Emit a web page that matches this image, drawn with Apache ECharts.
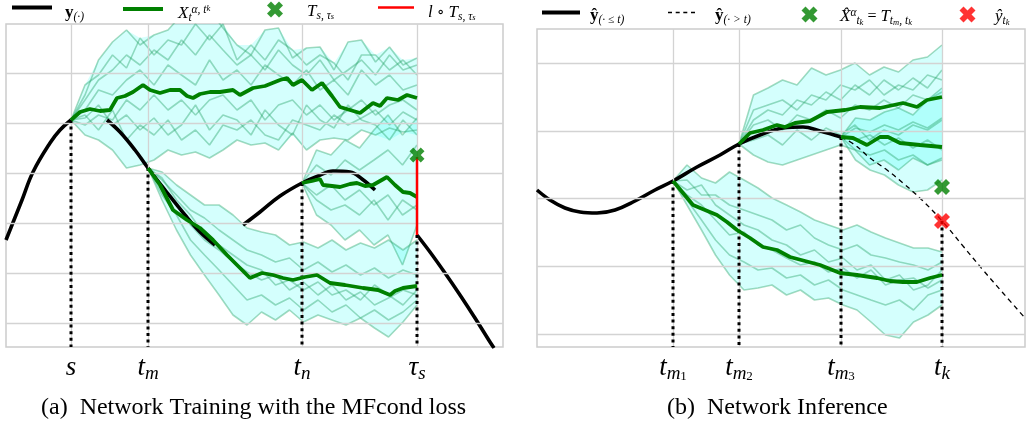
<!DOCTYPE html>
<html><head><meta charset="utf-8">
<script src="https://cdn.jsdelivr.net/npm/echarts@6/dist/echarts.min.js"></script>
<style>html,body{margin:0;padding:0;background:#fff}#c{width:1029px;height:425px}</style>
</head><body><div id="c"></div>
<script>
// ---------------- Panel (a) ----------------
const ticksA = [13, 28.4, 59.2, 82.2];
const tickLabelsA = ['s', 't_m', 't_n', 'τ_s'];
const dotTopA = [40.6, 31, 28, 17.6];
const hGridA = [0, 10, 20, 30, 40, 50];

const curveA1 = [[0,16.6],[1.6,20.6],[3.2,24.6],[5.4,30.2],[8.8,36],[10.8,38.6],[13,40.6]];
const curveA2 = [[20.2,40.6],[22.8,38.2],[25.8,34.6],[28.4,31],[31.8,26.6],[35.8,21.6],[38.8,18.2],[41.8,15.6]];
const curveA3 = [[47.4,19.6],[50.8,22.2],[54.8,25.4],[59.2,28],[62.4,29.4],[65.4,30.4],[68.8,30.2],[71.2,28.8],[73.8,26.6]];
const curveA4 = [[82.2,17.6],[84.8,14.2],[87.8,10],[90.8,5.6],[93.8,1],[96.8,-3.8],[97.6,-5]];

const meanA1 = [[13,40.6],[14.8,42.2],[16.8,42.8],[18.8,42.4],[20.8,42.6],[22.2,45],[23.8,45.4],[25.4,46.2],[27.4,47.6],[28.8,46.6],[30.8,46],[32.8,46.6],[34.8,46.6],[36.2,45.4],[37.4,45],[38.8,45.8],[40.8,46.2],[42.8,46.2],[45.4,46.6],[46.8,45.6],[49.4,47],[51.8,47.4],[54.8,48.6],[56.2,49],[57.4,47.6],[59.2,48.6],[61.2,46.6],[63.2,48],[65.2,45.4],[66.8,43.2],[68.8,42.6],[70.8,42],[73.4,44],[74.8,43.4],[76.2,45],[78.4,44.6],[80.2,45.6],[82.2,45]];
const meanA2 = [[28.4,31],[30.8,27.6],[33.4,22.6],[36.2,20.6],[38.8,19],[41.4,16.6],[44.2,13.6],[46.8,11],[48.8,9],[51.2,10],[53.4,9.6],[55.4,9],[57.4,8.6],[59.8,9.2],[62.2,9.6],[64.8,8],[67.8,7.6],[71.4,7],[74.4,6.6],[76.8,5.6],[77.8,6.4],[79.4,7],[82.2,7.4]];
const meanA3 = [[59.2,28],[61.2,28.4],[62.8,28.8],[63.4,27.6],[65.2,27.4],[66.8,27.2],[68.8,27.8],[70.2,28],[71.8,27.4],[73.4,27.6],[74.8,28.4],[76.2,29.2],[77.8,27.6],[79.4,26.2],[80.8,26],[82.2,25.2]];

const tA1 = [13,15.8,18.5,21.3,24.1,26.8,29.6,32.4,35.1,37.9,40.7,43.4,46.2,49,51.8,54.5,57.3,60.1,62.8,65.6,68.4,71.1,73.9,76.7,79.4,82.2];
const pathsA1 = [
 [40.6,45.6,52.6,56.2,58.6,55.6,57.6,58.6,61.6,60.6,62.6,59,55.6,53.6,58.6,59,53,55,55.2,50.6,56.2,56.6,52.2,55.2,51.6,53],
 [40.6,47.6,49.6,53.6,51,57,53.6,56.6,55.6,59.8,56.6,59.8,52.6,55.6,52.6,56.6,54.6,51.6,53.6,52,48.6,53.6,53.6,50.6,52.6,49.6],
 [40.6,42.6,46.6,45.6,48.6,50.6,47.6,51.6,49.6,47.6,52.6,48.6,50.6,47.6,51.6,49.6,47.6,50.6,46.6,48.6,45.6,50.6,47.6,49.6,46.6,47.6],
 [40.6,39.6,41.6,40.6,44.6,42.6,45.6,42.6,44.6,41.6,44.6,45.6,42.6,44.6,40.6,43.6,44.6,41.6,43.6,40.6,42.6,44.6,41.6,43.6,44.6,42.6],
 [40.6,37.6,36.6,34.6,31,31.6,32.6,34.6,33.6,34.2,33,34.6,36.6,35.6,36,34.6,38,34.6,36.6,37,36.6,38.6,37.6,39,38.2,38.6],
 [40.6,41.6,38.6,42.6,36.6,39.6,37.6,40.6,36.6,38.6,35.6,39.6,38.6,40.6,37.6,36.6,40.6,39.6,38.6,41.6,39.6,41,42.6,39.6,42.2,40.6],
 [40.6,44.6,48.6,50.6,53.6,51.6,54.6,52.6,56.6,53.6,57.6,54.6,51.6,53.6,50.6,54.6,51.6,49.6,52.6,48.6,50.6,52.6,49.6,53.6,50.6,51.6],
 [40.6,41,43.6,39.6,41.6,38.6,41,37.6,39.6,43.6,38.6,41.6,40.6,37.6,42.6,39.6,37.6,43.6,40.6,39,43.6,40.6,39.6,36.6,40.6,37.6]
];
const tA2 = [28.4,31.2,34.1,36.9,39.7,42.6,45.4,48.2,51.1,53.9,56.7,59.5,62.4,65.2,68,70.9,73.7,76.5,79.4,82.2];
const pathsA2 = [
 [31,30.2,27.6,25.6,23.6,23.6,21.6,19,18.2,17.6,15.6,16.2,15,16.6,14.6,16,15,16.6,14.6,16.6],
 [31,28.6,25.6,22.6,21,18.6,16.6,14.6,13.6,12.2,13,10.6,12.2,10.2,11.6,9.6,11,9,10.6,9.6],
 [31,27.6,23.6,19.6,16.6,14.6,12.2,10.2,8.6,9.6,6.6,8.2,5.6,7.6,4.6,6.2,3.6,5,6.6,5.6],
 [31,25.6,21.6,16.6,13.6,10.6,7.6,4.6,5.6,3.6,5,2.6,4.6,2.2,3.6,1,2.6,0.6,2.2,4.6],
 [31,24.6,18.6,13.6,9.6,5.6,1.6,-0.4,2.2,0.6,2.6,0.2,1.6,0.6,-0.4,1,-1,-2.8,0.2,3.6],
 [31,29,24.6,21.6,17.6,15.6,13.6,11.6,10.6,7.6,8.6,6.6,8.2,5.6,6.6,4.6,7.6,5.6,3.6,6.6]
];
const tA3 = [59.2,62.1,65,67.8,70.7,73.6,76.4,79.3,82.2];
const pathsA3 = [
 [28,34.6,33.6,36.6,35,38.6,41.6,37.6,41],
 [28,31.6,29.6,32.6,30.6,32.6,34.6,31.6,35.6],
 [28,25.6,27.6,24.6,26.6,23.6,25.6,21.6,23.6],
 [28,24.6,22.6,23.6,21.6,24.6,20.6,24.6,22.6],
 [28,21.6,19.6,16.6,18.6,15.6,17.6,11.6,19.6]
];
const markA = [82.2, 33.6];
const lossA = [[82.2,33.2],[82.2,17.6]];

// ---------------- Panel (b) ----------------
const ticksB = [27.2, 40.4, 60.8, 81];
const tickLabelsB = ['t_m1', 't_m2', 't_m3', 't_k'];
const dotTopB = [30.6, 38, 39.4, 22.6];
const hGridB = [0, 13.6, 27.2, 40.6, 54.2];

const curveB = [[0,28.8],[2.6,26.8],[5.6,25.2],[8.6,24.4],[12,24.2],[15.6,24.8],[19.6,26.6],[23.6,28.8],[27.2,30.6],[32,33.4],[36.6,35.8],[40.4,38],[44.6,39.8],[49.2,41.2],[53.2,41.4],[56.6,40.6],[60.8,39.4]];
const dashB = [[60.8,39.4],[63.6,37.8],[66.6,35.2],[70,32.8],[73.2,30.2],[77,26.8],[81.2,22.4],[85.2,17.6],[89.2,12.8],[93.2,8.2],[97.6,3.2]];

const meanB1 = [[27.2,30.6],[29.2,28.2],[31.2,25.8],[33.6,24.8],[36,23.8],[38,22.4],[40,20.8],[42.6,19.2],[45.2,17.4],[48,16.8],[50.6,15.4],[53.6,14.6],[56.6,13.8],[60.6,12.2],[64,11.8],[68,11.2],[70.6,10.6],[73.2,10.4],[76,10.4],[78.6,11.2],[81,11.8]];
const meanB2 = [[40.4,38],[42.6,40.2],[45.2,40.8],[48,41.8],[49.6,41.4],[51.6,42.2],[54.6,42.6],[58,44.4],[61.6,44.8],[64.6,45.4],[68.6,45.2],[73.2,46.2],[76,45.4],[78,46.8],[81,47.4]];
const meanB3 = [[60.8,39.4],[63.2,39.2],[66,37.8],[68.6,39.4],[70.2,39.4],[72.6,38.2],[76.6,37.8],[81,37.4]];

const tB1 = [27.2,30,32.9,35.7,38.5,41.4,44.2,47,49.9,52.7,55.5,58.3,61.2,64,66.8,69.7,72.5,75.3,78.2,81];
const pathsB1 = [
 [30.6,33.8,31.2,30.2,32.4,30.8,29.2,27.2,25.8,24.4,22.8,21.8,20.8,21.8,20.4,19.2,18.2,17.2,17.2,16.4],
 [30.6,30.8,27.8,27.8,25.8,24.8,23.8,22.8,20.8,21.8,19.2,17.8,16.8,17.8,15.8,15.2,14.4,13.8,12.8,14.4],
 [30.6,27.8,25.8,22.8,19.8,20.4,17.8,16.8,15.2,13.8,14.4,12.4,13.2,11.2,12.8,9.8,10.8,11.2,9.2,10.8],
 [30.6,26.8,22.8,18.8,15.8,14.4,12.8,13.2,11.2,11.8,9.8,10.8,8.8,7.8,6.8,5.8,6.8,4.8,7.8,8.8],
 [30.6,25.8,20.8,15.8,11.8,8.8,9.2,9.8,7.8,8.8,6.8,7.2,5.8,4.8,2.4,-0.2,-0.8,2.4,3.8,5.8],
 [30.6,28.8,29.8,25.8,23.8,21.8,20.8,18.8,17.8,15.8,16.8,14.4,15.2,12.8,13.8,10.8,11.8,8.8,9.8,12.8]
];
const tB2 = [40.4,43.3,46.2,49.1,52,54.9,57.8,60.7,63.6,66.5,69.4,72.3,75.2,78.1,81];
const pathsB2 = [
 [38,47.8,49.2,50.8,49.8,53.2,51.8,52.8,54.2,51.8,53.4,52.4,54.8,55.4,57.8],
 [38,44.8,45.8,46.8,44.8,47.8,46.8,49.8,48.8,50.8,47.8,49.8,48.8,51.8,50.8],
 [38,41.8,42.8,40.8,43.8,42.8,44.8,43.2,45.8,44.8,46.8,45.2,47.8,46.8,48.4],
 [38,38.8,39.8,37.8,40.8,38.8,41.2,39.8,41.8,38.8,40.8,39.8,41.8,40.8,42.8],
 [38,35.8,34.4,33.8,34.8,35.8,36.8,37.8,36.8,33.8,34.8,32.8,35.2,33.8,34.8],
 [38,42.8,44.8,43.8,46.8,45.8,48.4,46.8,49.8,47.8,50.8,48.8,51.2,49.2,52.8]
];
const tB3 = [60.8,63.7,66.6,69.5,72.3,75.2,78.1,81];
const pathsB3 = [
 [39.4,43.2,42.8,44.4,45.2,43.8,46.8,49.2],
 [39.4,41.2,40.4,41.8,40.8,42.4,41.2,43.2],
 [39.4,38.8,39.8,37.8,39.2,37.2,38.8,36.8],
 [39.4,36.8,35.8,36.8,34.8,35.8,33.8,35.2],
 [39.4,34.8,32.8,31.8,29.8,28.4,28.8,30.8]
];
const markGreenB = [81, 29.4];
const markRedB = [81, 22.6];

const captions = ['(a)\u2002Network Training with the MFcond loss', '(b)\u2002Network Inference'];

// ---------------- styles ----------------
const SERIF = "'Liberation Serif','DejaVu Serif',serif";
const XPATH = 'path://M3,0 L6,3 L9,0 L12,3 L9,6 L12,9 L9,12 L6,9 L3,12 L0,9 L3,6 L0,3 Z';
const BAND = 'rgba(0,255,245,0.17)';
const THIN = 'rgba(40,165,105,0.42)';
const GREEN = '#008000';

const series = [];
function line(gi, data, style, z, name, extra) {
  const s = Object.assign({type:'line', xAxisIndex:gi, yAxisIndex:gi, data:data, symbol:'none', showSymbol:false,
    lineStyle:style, itemStyle:{color:style.color}, z:z, silent:true, animation:false}, extra || {});
  if (name) s.name = name;
  series.push(s);
}
function addGridLines(gi, vx, hy) {
  series.push({type:'line', xAxisIndex:gi, yAxisIndex:gi, data:[], silent:true, z:1, symbol:'none',
    markLine:{silent:true, symbol:['none','none'], label:{show:false}, animation:false,
      lineStyle:{color:'#d3d3d3', width:1.3, type:'solid'},
      emphasis:{disabled:true},
      data: vx.map(v => ({xAxis:v})).concat(hy.map(v => ({yAxis:v})))}});
}
function addBundle(gi, ts, paths) {
  const up = ts.map((t,i) => [t, Math.max.apply(null, paths.map(p => p[i]))]);
  const lo = ts.map((t,i) => [t, Math.min.apply(null, paths.map(p => p[i]))]);
  const poly = up.concat(lo.slice().reverse());
  series.push({type:'custom', xAxisIndex:gi, yAxisIndex:gi, z:2, silent:true, animation:false,
    data:[poly[0]],
    renderItem:(params, api) => {
      const cs = params.coordSys;
      return {type:'polygon', shape:{points: poly.map(p => api.coord(p))}, style:{fill:BAND},
        clipPath:{type:'rect', shape:{x:cs.x, y:cs.y, width:cs.width, height:cs.height}}};
    }});
  paths.forEach(p => line(gi, ts.map((t,i) => [t, p[i]]), {color:THIN, width:1.6}, 3));
}
function addDotted(gi, ticks, tops, ymin) {
  ticks.forEach((t,i) => line(gi, [[t, tops[i]], [t, ymin]], {color:'#000', width:3, type:[3,3.6], cap:'butt'}, 5));
}

// panel a
addGridLines(0, ticksA, hGridA);
addBundle(0, tA1, pathsA1);
addBundle(0, tA2, pathsA2);
addBundle(0, tA3, pathsA3);
const BLK = {color:'#000', width:3.6};
line(0, curveA1, BLK, 4, 'y', {smooth:0.4});
line(0, curveA2, BLK, 4, null, {smooth:0.4});
line(0, curveA3, BLK, 4, null, {smooth:0.4});
line(0, curveA4, BLK, 4, null, {smooth:0.3});
addDotted(0, ticksA, dotTopA, -4.8);
const GRN = {color:GREEN, width:3.8};
line(0, meanA1, GRN, 6, 'X');
line(0, meanA2, GRN, 6);
line(0, meanA3, GRN, 6);
line(0, lossA, {color:'#ff0000', width:2.5}, 7, 'lT');
series.push({type:'scatter', name:'Ts', xAxisIndex:0, yAxisIndex:0, data:[markA], symbol:XPATH, symbolSize:15,
  itemStyle:{color:GREEN}, z:8, silent:true, animation:false});

// panel b
addGridLines(1, ticksB, hGridB);
addBundle(1, tB1, pathsB1);
addBundle(1, tB2, pathsB2);
addBundle(1, tB3, pathsB3);
line(1, curveB, BLK, 4, 'yle', {smooth:0.4});
line(1, dashB, {color:'#000', width:1.3, type:[5,4]}, 4, 'ygt', {smooth:0.4});
addDotted(1, ticksB, dotTopB, -2.6);
line(1, meanB1, GRN, 6);
line(1, meanB2, GRN, 6);
line(1, meanB3, GRN, 6);
series.push({type:'scatter', name:'Xh', xAxisIndex:1, yAxisIndex:1, data:[markGreenB], symbol:XPATH, symbolSize:16,
  itemStyle:{color:GREEN}, z:8, silent:true, animation:false});
series.push({type:'scatter', name:'yh', xAxisIndex:1, yAxisIndex:1, data:[markRedB], symbol:XPATH, symbolSize:16,
  itemStyle:{color:'#ff0000'}, z:8, silent:true, animation:false});

// tick labels
const tickRich = {
  i:{fontFamily:SERIF, fontStyle:'italic', fontSize:27, lineHeight:30, verticalAlign:'middle', color:'#000'},
  s:{fontFamily:SERIF, fontStyle:'italic', fontSize:19, lineHeight:14, verticalAlign:'bottom', color:'#000'},
  ss:{fontFamily:SERIF, fontSize:13, lineHeight:3, verticalAlign:'bottom', color:'#000'}
};
function tickFmt(ticks, labels) {
  return v => {
    const k = ticks.findIndex(t => Math.abs(t - v) < 1e-6);
    if (k < 0) return '';
    const parts = labels[k].split('_');
    let str = '{i|' + parts[0] + '}';
    if (parts[1]) {
      const m = parts[1].match(/^([^0-9]+)([0-9]*)$/);
      str += '{s|' + m[1] + '}';
      if (m[2]) str += '{ss|' + m[2] + '}';
    }
    return str;
  };
}
function xAxisCfg(gi, max, ticks, labels) {
  return {gridIndex:gi, type:'value', min:0, max:max, axisLine:{show:false}, axisTick:{show:false},
    splitLine:{show:false},
    axisLabel:{show:true, customValues:ticks, formatter:tickFmt(ticks, labels), rich:tickRich, margin:6, color:'#000'}};
}
function yAxisCfg(gi, min, max) {
  return {gridIndex:gi, type:'value', min:min, max:max, axisLine:{show:false}, axisTick:{show:false},
    axisLabel:{show:false}, splitLine:{show:false}};
}

// legends
const legendText = {
  y:'{b|y}{s|(·)}',
  X:'{i|X}{s|t}{p|α, t}{ps|k}',
  Ts:'{i|T}{s|s, τ}{ss|s}',
  lT:'{i|l}{o| ∘ }{i|T}{s|s, τ}{ss|s}',
  yle:'{b|ŷ}{s|(· ≤ t)}',
  ygt:'{b|ŷ}{s|(· > t)}',
  Xh:'{i|X̂}{p|α}{s|t}{ss|k}{o| = }{i|T}{s|t}{ss|m}{s|, t}{ss|k}',
  yh:'{i|ŷ}{s|t}{ss|k}'
};
const legendRich = {
  b:{fontFamily:SERIF, fontWeight:'bold', fontSize:17, lineHeight:20, verticalAlign:'middle', color:'#000'},
  i:{fontFamily:SERIF, fontStyle:'italic', fontSize:17, lineHeight:20, verticalAlign:'middle', color:'#000'},
  o:{fontFamily:SERIF, fontSize:16, lineHeight:20, verticalAlign:'middle', color:'#000'},
  s:{fontFamily:SERIF, fontStyle:'italic', fontSize:11.5, lineHeight:9, verticalAlign:'bottom', color:'#000'},
  ss:{fontFamily:SERIF, fontStyle:'italic', fontSize:8.5, lineHeight:4, verticalAlign:'bottom', color:'#000'},
  p:{fontFamily:SERIF, fontStyle:'italic', fontSize:11.5, lineHeight:9, verticalAlign:'top', color:'#000'},
  ps:{fontFamily:SERIF, fontStyle:'italic', fontSize:8.5, lineHeight:13, verticalAlign:'top', color:'#000'}
};
const ICON_LINE40 = 'path://M0,0L40,0L40,3.8L0,3.8Z';
const ICON_LINE38 = 'path://M0,0L38,0L38,3.8L0,3.8Z';
const ICON_RED = 'path://M0,0L36,0L36,2.6L0,2.6Z';
const ICON_DASH = 'path://M0,0h4v1.4h-4z M7.7,0h4v1.4h-4z M15.3,0h4v1.4h-4z M23,0h4v1.4h-4z';
function leg(name, icon, left, top, w, h, padL, padT) {
  const d = icon ? {name:name, icon:icon} : {name:name};
  return {data:[d], left:left, top:top, itemWidth:w, itemHeight:h, padding:0, selectedMode:false,
    itemStyle:{borderWidth:0}, lineStyle:{width:0},
    formatter: n => legendText[n],
    textStyle:{padding:[padT,0,0,padL], rich:legendRich, color:'#000'}};
}

const option = {
  animation:false,
  backgroundColor:'#fff',
  title: [
    {text:captions[0], left:41, top:396, padding:0, textStyle:{fontFamily:SERIF, fontSize:24, fontWeight:'normal', color:'#000'}},
    {text:captions[1], left:667, top:396, padding:0, textStyle:{fontFamily:SERIF, fontSize:24, fontWeight:'normal', color:'#000'}}
  ],
  legend: [
    leg('y', ICON_LINE40, 12, 4, 40, 14, 8, 10),
    leg('X', ICON_LINE40, 123, 4, 40, 14, 10, 10),
    leg('Ts', null, 267, 1.5, 16, 16, 19, 4),
    leg('lT', ICON_RED, 378, 4, 36, 14, 9, 10),
    leg('yle', ICON_LINE38, 542, 7, 38, 14, 5, 6),
    leg('ygt', ICON_DASH, 668, 7, 27, 14, 15, 6),
    leg('Xh', null, 801.5, 6.5, 16, 16, 17.5, 5),
    leg('yh', null, 959.5, 6.5, 16, 16, 14.5, 5)
  ],
  grid: [
    {left:6, top:24, width:497, height:323, show:true, borderColor:'#cccccc', borderWidth:1.5, backgroundColor:'#fff'},
    {left:537, top:29, width:488, height:318, show:true, borderColor:'#cccccc', borderWidth:1.5, backgroundColor:'#fff'}
  ],
  xAxis: [xAxisCfg(0, 99.4, ticksA, tickLabelsA), xAxisCfg(1, 97.6, ticksB, tickLabelsB)],
  yAxis: [yAxisCfg(0, -4.8, 59.8), yAxisCfg(1, -2.6, 61)],
  series: series
};
const chart = echarts.init(document.getElementById('c'), null, {renderer:'canvas'});
chart.setOption(option);
</script>
</body></html>
